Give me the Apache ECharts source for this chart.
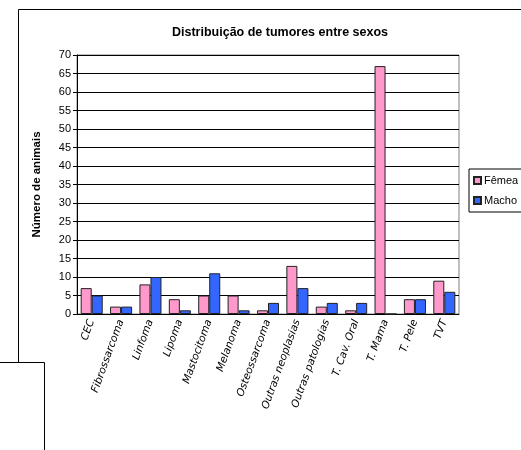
<!DOCTYPE html>
<html>
<head>
<meta charset="utf-8">
<script src="https://cdn.jsdelivr.net/npm/echarts@6/dist/echarts.min.js"></script>
<style>
  html, body { margin: 0; padding: 0; background: #fff; }
  #chart { width: 521px; height: 450px; }
</style>
</head>
<body>
<div id="chart"></div>
<script>
const categories = ["CEC", "Fibrossarcoma", "Linfoma", "Lipoma", "Mastocitoma", "Melanoma",
  "Osteossarcoma", "Outras neoplasias", "Outras patologias", "T. Cav. Oral", "T. Mama", "T. Pele", "TVT"]
const femea = [7, 2, 8, 4, 5, 5, 1, 13, 2, 1, 67, 4, 9]
const macho = [5, 2, 10, 1, 11, 1, 3, 7, 3, 3, 0, 4, 6]

const chart = echarts.init(document.getElementById("chart"), null, { renderer: "canvas" })

const frame = { stroke: "#000", lineWidth: 1 }

chart.setOption({
  backgroundColor: "#fff",
  animation: false,
  title: {
    text: "Distribuição de tumores entre sexos",
    left: 275, top: 21, textAlign: "center",
    textStyle: { fontFamily: "Liberation Sans", fontSize: 12.5, fontWeight: "bold", color: "#000" },
  },
  legend: {
    orient: "vertical",
    left: 469, top: 169,
    padding: [6, 12, 6, 4],
    itemGap: 9,
    itemWidth: 7, itemHeight: 7,
    icon: "rect",
    borderColor: "#000", borderWidth: 1,
    textStyle: { fontFamily: "Liberation Sans", fontSize: 11, color: "#000", padding: [0, 0, 0, -2] },
    data: ["Fêmea", "Macho"],
  },
  grid: { left: 77, right: 62, top: 55, bottom: 136, show: true, borderColor: "#808080", borderWidth: 1 },
  xAxis: {
    type: "category",
    data: categories,
    axisLine: { lineStyle: { color: "#000" } },
    axisTick: { length: 5, lineStyle: { color: "#000" } },
    axisLabel: {
      interval: 0, rotate: 70, margin: 6, color: "#000",
      fontFamily: "DejaVu Sans", fontStyle: "italic", fontSize: 10.5,
    },
  },
  yAxis: {
    type: "value",
    min: 0, max: 70, interval: 5,
    name: "Número de animais",
    nameLocation: "middle",
    nameGap: 34,
    nameTextStyle: { fontFamily: "Liberation Sans", fontSize: 11.5, fontWeight: "bold", color: "#000" },
    axisLine: { show: true, lineStyle: { color: "#000" } },
    axisTick: { show: true, length: 4, lineStyle: { color: "#000" } },
    axisLabel: { color: "#000", fontFamily: "Liberation Sans", fontSize: 11, margin: 6 },
    splitLine: { lineStyle: { color: "#000", width: 1 } },
  },
  series: [
    {
      name: "Fêmea", type: "bar", data: femea,
      barGap: "0%", barCategoryGap: "25%",
      itemStyle: { color: "#FF99CC", borderColor: "#222", borderWidth: 1 },
    },
    {
      name: "Macho", type: "bar", data: macho,
      itemStyle: { color: "#3366FF", borderColor: "#222", borderWidth: 1 },
    },
  ],
  graphic: [
    { type: "polyline", shape: { points: [[521, 9.5], [18.5, 9.5], [18.5, 362.5]] }, style: frame, silent: true },
    { type: "polyline", shape: { points: [[0, 362.5], [44.5, 362.5], [44.5, 450]] }, style: frame, silent: true },
  ],
})
</script>
</body>
</html>
